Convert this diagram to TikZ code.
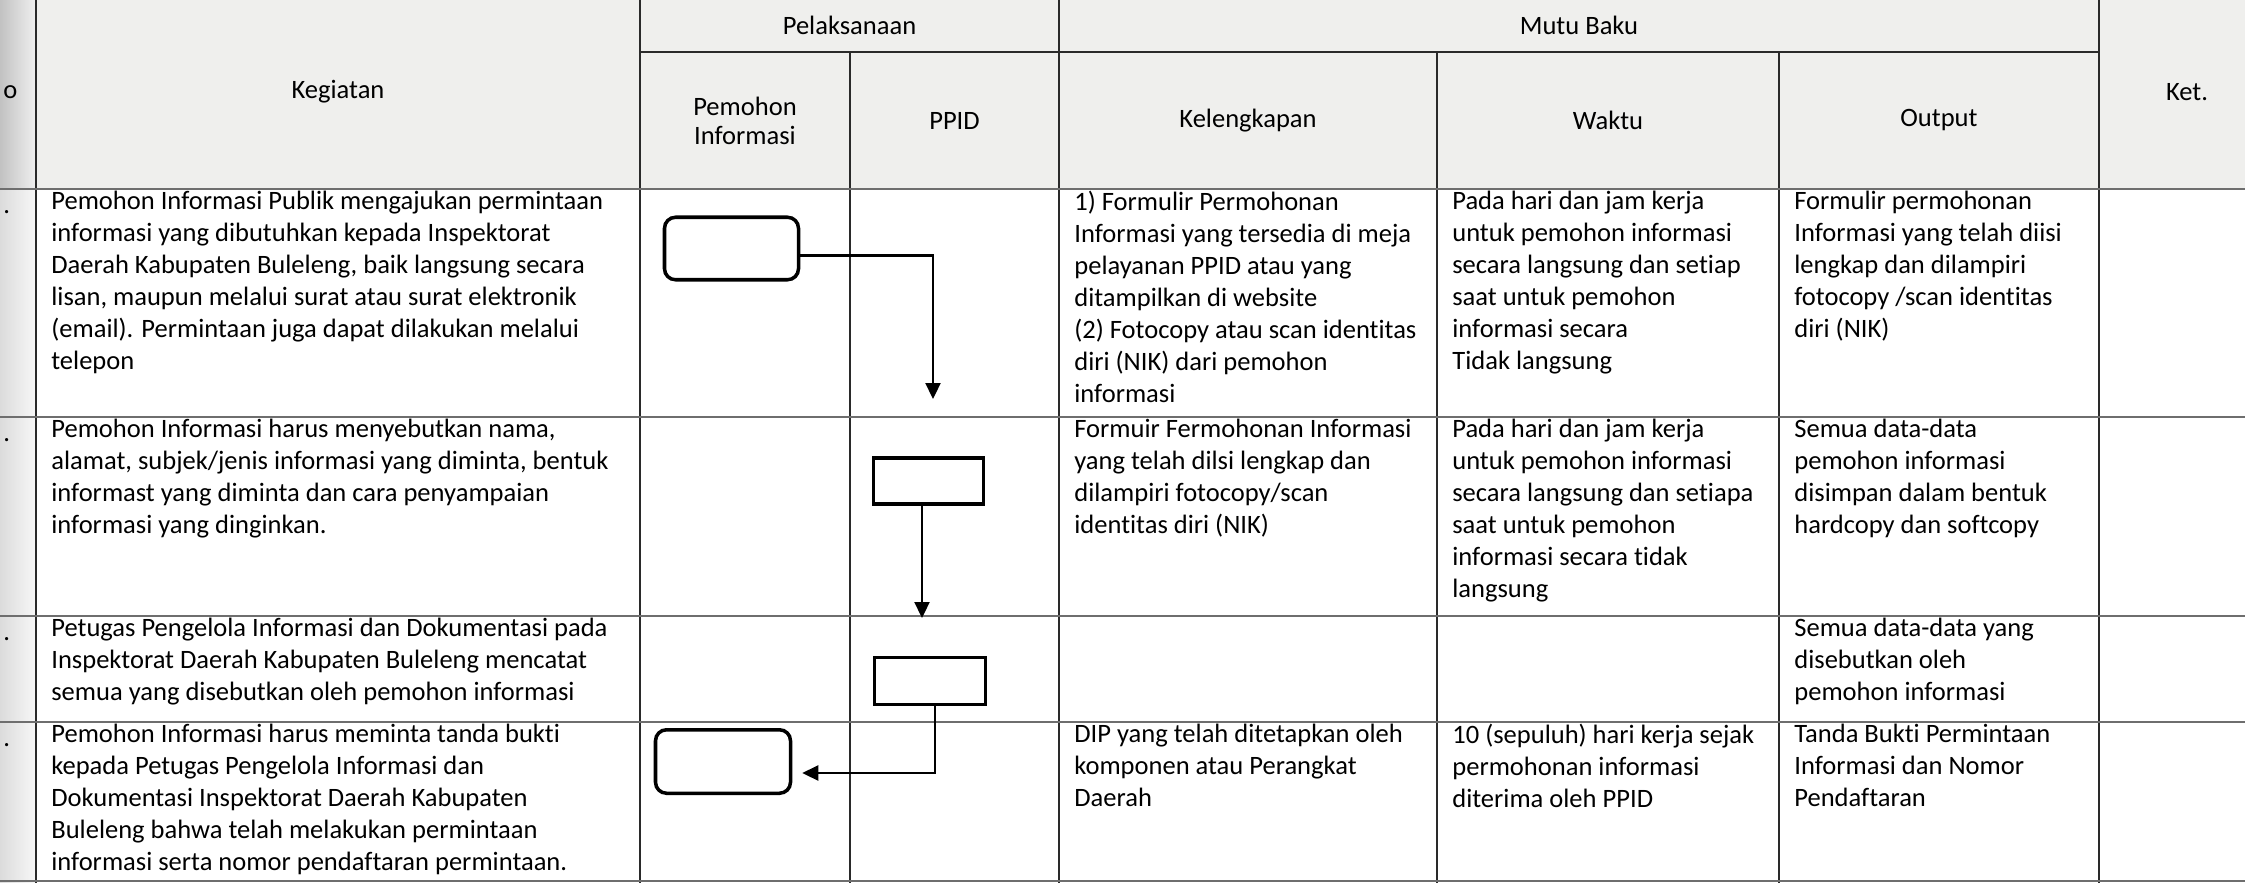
\documentclass[tikz,border=0pt]{standalone}
\usepackage{fontspec}
\setmainfont{Carlito}[Ligatures=NoCommon]
\usetikzlibrary{positioning}
\usetikzlibrary{arrows.meta}
\definecolor{SOPheadgrey}{HTML}{EFEFED}
\definecolor{SOPrulegrey}{HTML}{6E6E6E}
\definecolor{SOPlinegrey}{HTML}{2A2A2A}
\newcommand{\cellfont}{\fontsize{15.1pt}{18.2pt}\selectfont}

\begin{document}
\begin{tikzpicture}[
  cell/.style={anchor=north west, inner sep=0pt, align=left, font=\cellfont, execute at begin node=\strut},
  head/.style={inner sep=0pt, align=center, font=\cellfont},
  num/.style={anchor=base west, inner sep=0pt, font=\cellfont},
  actbox/.style={draw, line width=2pt, inner sep=0pt, minimum width=2.2cm, minimum height=0.92cm},
  reqbox/.style={draw, line width=2pt, inner sep=0pt, rounded corners=0.22cm, minimum width=2.68cm, minimum height=1.25cm},
  flow/.style={-{Triangle[length=0.32cm,width=0.3cm]}, line width=1.3pt}
]
\useasboundingbox (0,0) rectangle (44.9,-17.66);
\clip (0,0) rectangle (44.9,-17.66);

% Background
\fill[SOPheadgrey] (0.72,0.1) rectangle (45.5,-3.78);
\shade[left color=black!24, right color=black!6] (0,0.1) rectangle (0.72,-3.78);
\shade[left color=black!14, right color=black!3] (0,-3.78) rectangle (0.72,-17.7);

% Table rules
\draw[SOPlinegrey, line width=0.8pt] (0.72,0.1) -- (0.72,-17.7);
\draw[SOPlinegrey, line width=0.8pt] (12.8,0.1) -- (12.8,-17.7);
\draw[SOPlinegrey, line width=0.8pt] (17.0,-1.04) -- (17.0,-17.7);
\draw[SOPlinegrey, line width=0.8pt] (21.18,0.1) -- (21.18,-17.7);
\draw[SOPlinegrey, line width=0.8pt] (28.74,-1.04) -- (28.74,-17.7);
\draw[SOPlinegrey, line width=0.8pt] (35.58,-1.04) -- (35.58,-17.7);
\draw[SOPlinegrey, line width=0.8pt] (41.98,0.1) -- (41.98,-17.7);
\draw[SOPlinegrey, line width=0.8pt] (12.8,-1.04) -- (41.98,-1.04);
\draw[SOPrulegrey, line width=1.3pt] (0,-3.78) -- (45.5,-3.78);
\draw[SOPrulegrey, line width=1.3pt] (0,-8.34) -- (45.5,-8.34);
\draw[SOPrulegrey, line width=1.3pt] (0,-12.32) -- (45.5,-12.32);
\draw[SOPrulegrey, line width=1.3pt] (0,-14.44) -- (45.5,-14.44);
\draw[SOPrulegrey, line width=1.3pt] (0,-17.62) -- (45.5,-17.62);

% Header
\node[head, anchor=west] (hNo) at (0.06,-1.84) {o};
\node[head] (hKeg) at (6.76,-1.84) {Kegiatan};
\node[head] (hPel) at (16.99,-0.5) {Pelaksanaan};
\node[head] (hMutu) at (31.58,-0.5) {Mutu Baku};
\node[head, font=\fontsize{15.1pt}{16.4pt}\selectfont] (hPem) at (14.9,-2.41) {Pemohon\\Informasi};
\node[head] (hPPID) at (19.09,-2.41) {PPID};
\node[head] (hKel) at (24.96,-2.41) {Kelengkapan};
\node[head] (hWak) at (32.16,-2.41) {Waktu};
\node[head] (hOut) at (38.78,-2.41) {Output};
\node[head] (hKet) at (43.74,-1.84) {Ket.};

% Row numbers
\node[num] (n1) at (0.06,-4.26) {.};
\node[num] (n2) at (0.06,-8.82) {.};
\node[num] (n3) at (0.06,-12.8) {.};
\node[num] (n4) at (0.06,-14.92) {.};

% Row 1
\node[cell] (k1) at (1.02,-3.82) {Pemohon Informasi Publik mengajukan permintaan\\informasi yang dibutuhkan kepada Inspektorat\\Daerah Kabupaten Buleleng, baik langsung secara\\lisan, maupun melalui surat atau surat elektronik\\(email). Permintaan juga dapat dilakukan melalui\\telepon};
\node[cell] (l1) at (21.48,-3.82) {1) Formulir Permohonan\\Informasi yang tersedia di meja\\pelayanan PPID atau yang\\ditampilkan di website\\(2) Fotocopy atau scan identitas\\diri (NIK) dari pemohon\\informasi};
\node[cell] (w1) at (29.04,-3.82) {Pada hari dan jam kerja\\untuk pemohon informasi\\secara langsung dan setiap\\saat untuk pemohon\\informasi secara\\Tidak langsung};
\node[cell] (o1) at (35.88,-3.82) {Formulir permohonan\\Informasi yang telah diisi\\lengkap dan dilampiri\\fotocopy /scan identitas\\diri (NIK)};

% Row 2
\node[cell] (k2) at (1.02,-8.38) {Pemohon Informasi harus menyebutkan nama,\\alamat, subjek/jenis informasi yang diminta, bentuk\\informast yang diminta dan cara penyampaian\\informasi yang dinginkan.};
\node[cell] (l2) at (21.48,-8.38) {Formuir Fermohonan Informasi\\yang telah dilsi lengkap dan\\dilampiri fotocopy/scan\\identitas diri (NIK)};
\node[cell] (w2) at (29.04,-8.38) {Pada hari dan jam kerja\\untuk pemohon informasi\\secara langsung dan setiapa\\saat untuk pemohon\\informasi secara tidak\\langsung};
\node[cell] (o2) at (35.88,-8.38) {Semua data-data\\pemohon informasi\\disimpan dalam bentuk\\hardcopy dan softcopy};

% Row 3
\node[cell] (k3) at (1.02,-12.36) {Petugas Pengelola Informasi dan Dokumentasi pada\\Inspektorat Daerah Kabupaten Buleleng mencatat\\semua yang disebutkan oleh pemohon informasi};
\node[cell] (o3) at (35.88,-12.36) {Semua data-data yang\\disebutkan oleh\\pemohon informasi};

% Row 4
\node[cell] (k4) at (1.02,-14.48) {Pemohon Informasi harus meminta tanda bukti\\kepada Petugas Pengelola Informasi dan\\Dokumentasi Inspektorat Daerah Kabupaten\\Buleleng bahwa telah melakukan permintaan\\informasi serta nomor pendaftaran permintaan.};
\node[cell] (l4) at (21.48,-14.48) {DIP yang telah ditetapkan oleh\\komponen atau Perangkat\\Daerah};
\node[cell] (w4) at (29.04,-14.48) {10 (sepuluh) hari kerja sejak\\permohonan informasi\\diterima oleh PPID};
\node[cell] (o4) at (35.88,-14.48) {Tanda Bukti Permintaan\\Informasi dan Nomor\\Pendaftaran};

% Flow
\node[reqbox] (a1) at (14.63,-4.97) {};
\node[actbox] (b2) at (18.57,-9.62) {};
\node[actbox, minimum width=2.22cm, minimum height=0.94cm] (b3) at (18.6,-13.62) {};
\node[reqbox, minimum width=2.7cm, minimum height=1.27cm] (a4) at (14.46,-15.23) {};
\coordinate (e1) at (18.66,-7.98);
\coordinate (e2) at (18.44,-12.36);

\draw[flow] ([yshift=-0.14cm]a1.east) -| (e1);
\draw[flow] (b2.south -| e2) -- (e2);
\draw[flow] ([xshift=0.1cm]b3.south) |- ([xshift=0.2cm,yshift=-0.23cm]a4.east);

\end{tikzpicture}
\end{document}
